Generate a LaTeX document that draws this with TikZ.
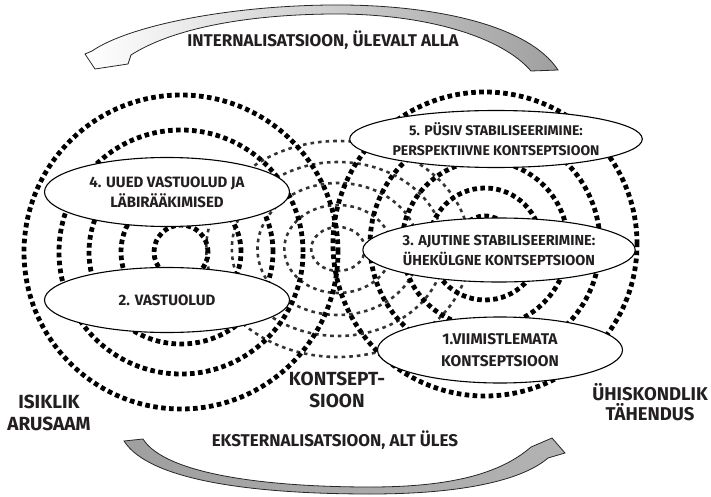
\documentclass[tikz,border=0pt]{standalone}
\usepackage{fontspec}
\setmainfont{Fira Sans}
\usetikzlibrary{shapes.geometric}
\definecolor{txt}{HTML}{231F20}
\begin{document}
\begin{tikzpicture}[x=1pt,y=-1pt,
  thickdot/.style={line width=4.8pt, dash pattern=on 4.6pt off 3.4pt, draw=black},
  thindot/.style={line width=2.6pt, dash pattern=on 3.6pt off 4pt, draw=black!80},
  bubble/.style={ellipse, draw=black, line width=1.1pt, fill=white, inner sep=0pt, align=center,
    font=\bfseries\fontsize{14.5}{20}\selectfont, text=txt},
  lbl/.style={font=\bfseries\fontsize{19}{22}\selectfont, align=center, text=txt},
  ttl/.style={font=\bfseries\fontsize{17}{18}\selectfont, text=txt},
  arrowbody/.style={draw=black!85, line width=0.8pt}]
\useasboundingbox (0,0) rectangle (711,497);

% middle set (thin dots)
\foreach \r in {22,44,66,87,108}
  \draw[thindot] (338,249) circle[x radius=1.22*\r pt, y radius=\r pt];

% left set (thick dots)
\foreach \r in {27,60,92,122,157}
  \draw[thickdot] (181,252) circle[radius=\r pt];

% right set (thick dots)
\foreach \r in {28,56,83,115,152}
  \draw[thickdot] (485,244) circle[radius=\r pt];

% labelled ellipses
\node[bubble, minimum width=245pt, minimum height=69pt, font=\bfseries\fontsize{15}{20}\selectfont] (e4) at (167,192) {4. UUED VASTUOLUD JA\\LÄBIRÄÄKIMISED};
\node[bubble, minimum width=245pt, minimum height=65pt, font=\bfseries\fontsize{15}{20}\selectfont] (e2) at (167,300) {2. VASTUOLUD};
\node[bubble, minimum width=242pt, minimum height=57pt, font=\bfseries\fontsize{14}{20}\selectfont] (e5) at (496,139) {5. PÜSIV STABILISEERIMINE:\\PERSPEKTIIVNE KONTSEPTSIOON};
\node[bubble, minimum width=248pt, minimum height=64pt] (e3) at (499,250) {3. AJUTINE STABILISEERIMINE:\\ÜHEKÜLGNE KONTSEPTSIOON};
\node[bubble, minimum width=245pt, minimum height=66pt, font=\bfseries\fontsize{15.5}{22}\selectfont] (e1) at (500,350) {1.VIIMISTLEMATA\\KONTSEPTSIOON};

% arrows
\shadedraw[arrowbody, left color=white, right color=gray!75]
  (558,70) .. controls (528,24) and (430,4) .. (330,5)
  .. controls (230,6) and (130,25) .. (92,51)
  -- (85,54) -- (95,69) -- (128,64) -- (131,55)
  .. controls (170,30) and (240,15) .. (330,14)
  .. controls (420,13) and (500,35) .. (531,71) -- cycle;
\shadedraw[arrowbody, left color=gray!75, right color=gray!60]
  (124,441) .. controls (150,482) and (260,494) .. (370,494)
  .. controls (470,494) and (525,478) .. (548,458)
  -- (565,453) -- (552,438) -- (531,447)
  .. controls (500,474) and (450,487) .. (370,487)
  .. controls (265,487) and (165,474) .. (143,439) -- cycle;

% texts
\node[ttl] (tin) at (323,40) {INTERNALISATSIOON, ÜLEVALT ALLA};
\node[ttl] (tex) at (335,440) {EKSTERNALISATSIOON, ALT ÜLES};
\node[lbl] (isik) at (49,413) {ISIKLIK\\ARUSAAM};
\node[lbl] (kon) at (337,390) {KONTSEPT-\\SIOON};
\node[lbl, font=\bfseries\fontsize{18.5}{20}\selectfont] (yhis) at (650,402) {ÜHISKONDLIK\\TÄHENDUS};
\end{tikzpicture}
\end{document}
